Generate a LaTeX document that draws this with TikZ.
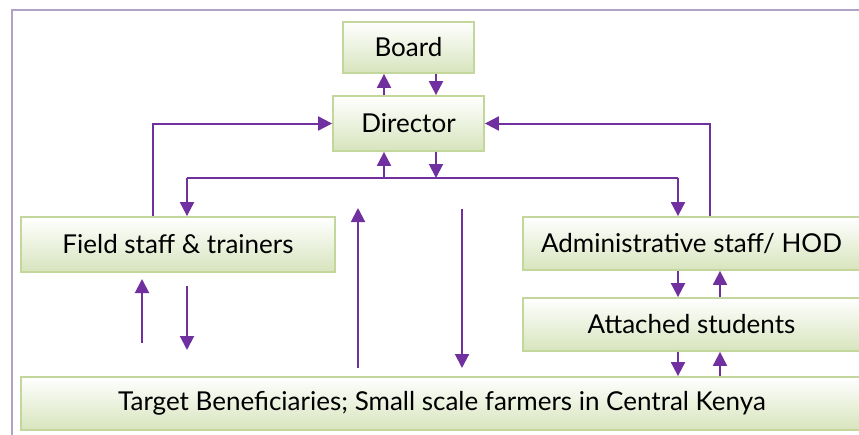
\documentclass[tikz,border=0pt]{standalone}
\usepackage{fontspec}
\setmainfont{Lato}
\usetikzlibrary{arrows.meta}
\definecolor{arrpurple}{HTML}{7030A0}
\definecolor{framepurple}{HTML}{B3A2C7}
\definecolor{boxborder}{HTML}{C3D69B}
\definecolor{boxbottom}{HTML}{D7E4BD}
\tikzset{
  box/.style={rectangle, draw=boxborder, line width=1.8pt, top color=white, bottom color=boxbottom,
    inner sep=0pt, font=\fontsize{26}{30}\selectfont, text=black},
  arr/.style={draw=arrpurple, line width=2pt, -{Triangle[width=14pt,length=14pt]}},
  ln/.style={draw=arrpurple, line width=2pt}
}
\begin{document}
\begin{tikzpicture}[x=1pt,y=-1pt]
\useasboundingbox (0,0) rectangle (859,434);
\begin{scope}
\clip (0,0) rectangle (859,434);
\draw[framepurple, line width=2pt] (12,450) -- (12,10) -- (880,10);
\node[box, minimum width=131pt, minimum height=51pt] (board) at (408.5,47.5) {Board};
\node[box, minimum width=151pt, minimum height=55pt] (dir) at (408.5,123.5) {Director};
\node[box, minimum width=314pt, minimum height=55pt] (field) at (178,244.5) {Field staff \& trainers};
\node[box, minimum width=337pt, minimum height=53pt] (admin) at (691.5,243.5) {Administrative staff/ HOD};
\node[box, minimum width=337pt, minimum height=53pt] (att) at (691.5,324.5) {Attached students};
\node[box, minimum width=842pt, minimum height=53pt] (target) at (442,403.5) {Target Beneficiaries; Small scale farmers in Central Kenya};

\coordinate (busL) at (187,178);
\coordinate (busR) at (678,178);
\coordinate (busA) at (384,178);
\coordinate (busB) at (436,178);

% Board <-> Director
\draw[arr] (384,0 |- dir.north) -- (384,0 |- board.south);
\draw[arr] (436,0 |- board.south) -- (436,0 |- dir.north);
% Director <-> bus
\draw[arr] (busA) -- (384,0 |- dir.south);
\draw[arr] (436,0 |- dir.south) -- (busB);
\draw[ln] (busL) -- (busR);
\draw[arr] (busL) -- (187,0 |- field.north);
\draw[arr] (busR) -- (678,0 |- admin.north);
% loops to Director
\draw[arr] (153,0 |- field.north) |- (dir.west);
\draw[arr] (710,0 |- admin.north) |- (dir.east);
% Field <-> target (free arrows)
\coordinate (fu1) at (142,343);
\coordinate (fu2) at (142,279);
\coordinate (fd1) at (187,286);
\coordinate (fd2) at (187,350);
\draw[arr] (fu1) -- (fu2);
\draw[arr] (fd1) -- (fd2);
% middle arrows
\coordinate (mu1) at (358,368);
\coordinate (mu2) at (358,208);
\coordinate (md1) at (462,209);
\coordinate (md2) at (462,368);
\draw[arr] (mu1) -- (mu2);
\draw[arr] (md1) -- (md2);
% Admin <-> Attached
\draw[arr] (678,0 |- admin.south) -- (678,0 |- att.north);
\draw[arr] (720,0 |- att.north) -- (720,0 |- admin.south);
% Attached <-> Target
\draw[arr] (678,0 |- att.south) -- (678,0 |- target.north);
\draw[arr] (720,0 |- target.north) -- (720,0 |- att.south);
\end{scope}
\end{tikzpicture}
\end{document}
